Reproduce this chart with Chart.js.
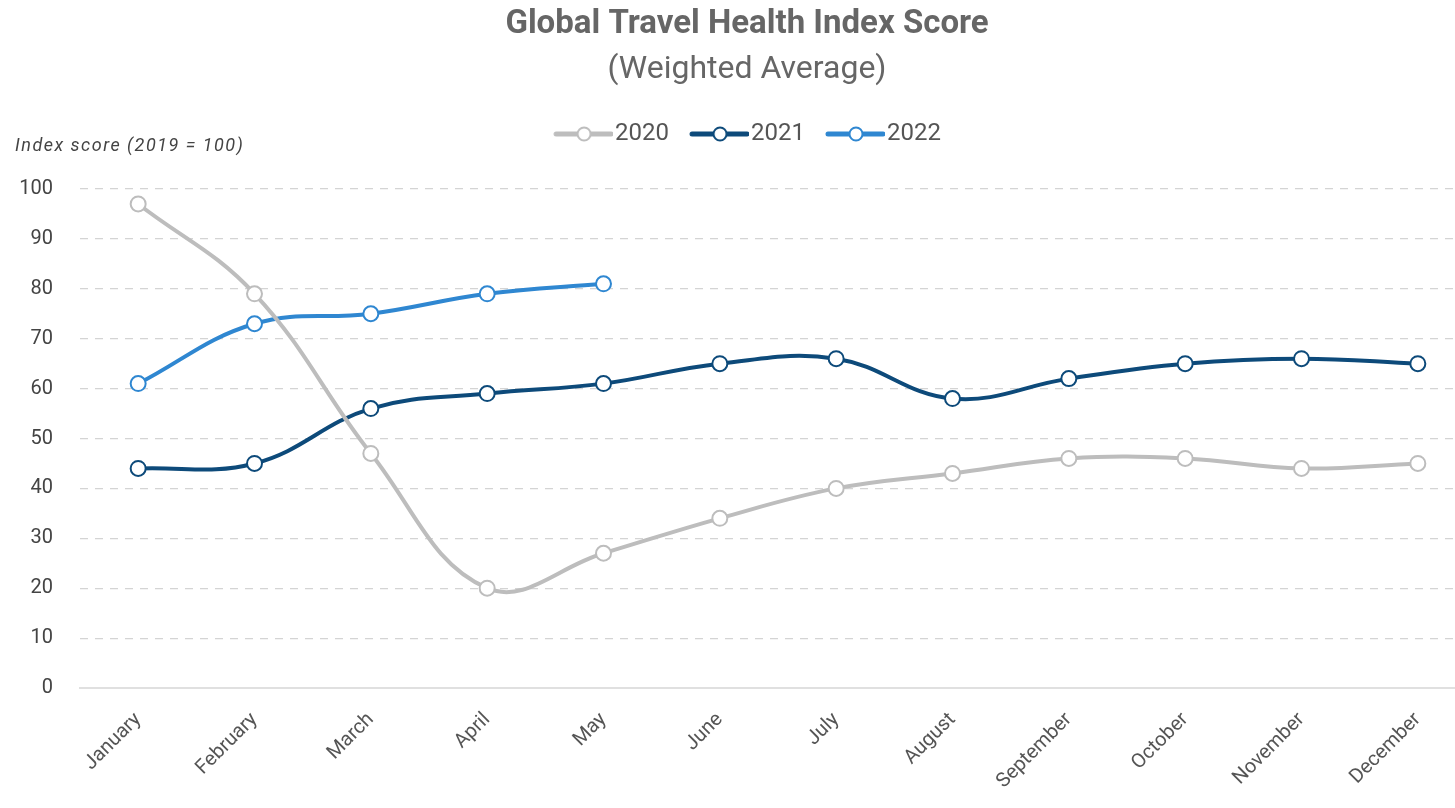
<!DOCTYPE html>
<html>
<head>
<meta charset="utf-8">
<script src="https://cdn.jsdelivr.net/npm/chart.js@4/dist/chart.umd.min.js"></script>
<style>
  html, body { margin: 0; padding: 0; background: #fff; overflow: hidden; }
  #wrap { position: absolute; left: 0; top: 0; width: 1504px; height: 808px; }
</style>
</head>
<body>
<div id="wrap"><canvas id="c"></canvas></div>
<script>
const months = ["January","February","March","April","May","June","July","August","September","October","November","December"];
const series2020 = [97, 79, 47, 20, 27, 34, 40, 43, 46, 46, 44, 45];
const series2021 = [44, 45, 56, 59, 61, 65, 66, 58, 62, 65, 66, 65];
const series2022 = [61, 73, 75, 79, 81];
const yTicks = [0, 10, 20, 30, 40, 50, 60, 70, 80, 90, 100];

const colors = { y2020: "#bdbdbd", y2021: "#0d4a7a", y2022: "#2f87d1" };

function legendIcon(color) {
  const cv = document.createElement("canvas");
  cv.width = 70; cv.height = 20;
  const g = cv.getContext("2d");
  g.strokeStyle = color; g.lineWidth = 5; g.lineCap = "round";
  g.beginPath(); g.moveTo(13, 10); g.lineTo(68, 10); g.stroke();
  g.fillStyle = "#fff"; g.lineWidth = 2;
  g.beginPath(); g.arc(41, 10, 6.5, 0, Math.PI * 2); g.fill(); g.stroke();
  return cv;
}

function ds(label, data, color) {
  return {
    label, data,
    borderColor: color, backgroundColor: "#fff",
    borderWidth: 4, tension: 0.4,
    pointRadius: 7.5, pointHoverRadius: 7.5,
    pointBackgroundColor: "#fff", pointBorderColor: color, pointBorderWidth: 2,
    pointStyle: "circle"
  };
}

const yTitle = {
  id: "yTitle",
  afterDraw(chart) {
    const ctx = chart.ctx;
    ctx.save();
    ctx.font = "italic 18px Roboto";
    try { ctx.letterSpacing = "1.5px"; } catch (e) {}
    ctx.fillStyle = "#444";
    ctx.textAlign = "left";
    ctx.textBaseline = "middle";
    ctx.fillText("Index score (2019 = 100)", 15, 146);
    ctx.restore();
  }
};

const legendGap = {
  id: "legendGap",
  beforeInit(chart) {
    const lg = chart.legend;
    if (!lg) return;
    const origFit = lg.fit;
    lg.fit = function () {
      origFit.call(this);
      this.height += 33;
    };
  }
};

const icons = [legendIcon(colors.y2020), legendIcon(colors.y2021), legendIcon(colors.y2022)];

new Chart(document.getElementById("c"), {
  type: "line",
  data: {
    labels: months,
    datasets: [
      ds("2020", series2020, colors.y2020),
      ds("2021", series2021, colors.y2021),
      ds("2022", series2022, colors.y2022)
    ]
  },
  options: {
    responsive: true,
    maintainAspectRatio: false,
    animation: false,
    layout: { padding: { left: 18, right: 28, top: 0, bottom: 0 } },
    plugins: {
      title: {
        display: true,
        text: "Global Travel Health Index Score",
        color: "#666",
        font: { family: "Roboto", size: 33, weight: "bold" },
        padding: { top: 5, bottom: 6 }
      },
      subtitle: {
        display: true,
        text: "(Weighted Average)",
        color: "#666",
        font: { family: "Roboto", size: 32, weight: "normal" },
        padding: { top: 0, bottom: 13 }
      },
      legend: {
        display: true,
        position: "top",
        labels: {
          usePointStyle: true,
          pointStyleWidth: 50,
          boxHeight: 20,
          color: "#555",
          font: { family: "Roboto", size: 24 },
          padding: 20,
          generateLabels(chart) {
            return chart.data.datasets.map((d, i) => ({
              text: d.label,
              pointStyle: icons[i],
              fillStyle: "#fff",
              strokeStyle: d.borderColor,
              lineWidth: 0,
              hidden: false,
              datasetIndex: i,
              fontColor: "#555"
            }));
          }
        }
      },
      tooltip: { enabled: false }
    },
    scales: {
      x: {
        offset: true,
        grid: { display: false, drawTicks: false },
        border: { display: true, color: "#e0e0e0", width: 2 },
        ticks: {
          color: "#555",
          font: { family: "Roboto", size: 20 },
          maxRotation: 45, minRotation: 45,
          padding: 20,
          autoSkip: false
        },
        afterFit(scale) {
          scale.height = 120;
        }
      },
      y: {
        min: 0, max: 100,
        afterBuildTicks(axis) { axis.ticks = yTicks.map(v => ({ value: v })); },
        grid: {
          color: (c) => c.tick && c.tick.value === 0 ? "rgba(0,0,0,0)" : "#d4d4d4",
          lineWidth: 1.2,
          drawTicks: false
        },
        border: { display: false, dash: [8, 7] },
        ticks: {
          color: "#444",
          font: { family: "Roboto", size: 20 },
          padding: 27
        },
        afterFit(scale) {
          scale.width = 62;
        }
      }
    }
  },
  plugins: [yTitle, legendGap]
});
</script>
</body>
</html>
